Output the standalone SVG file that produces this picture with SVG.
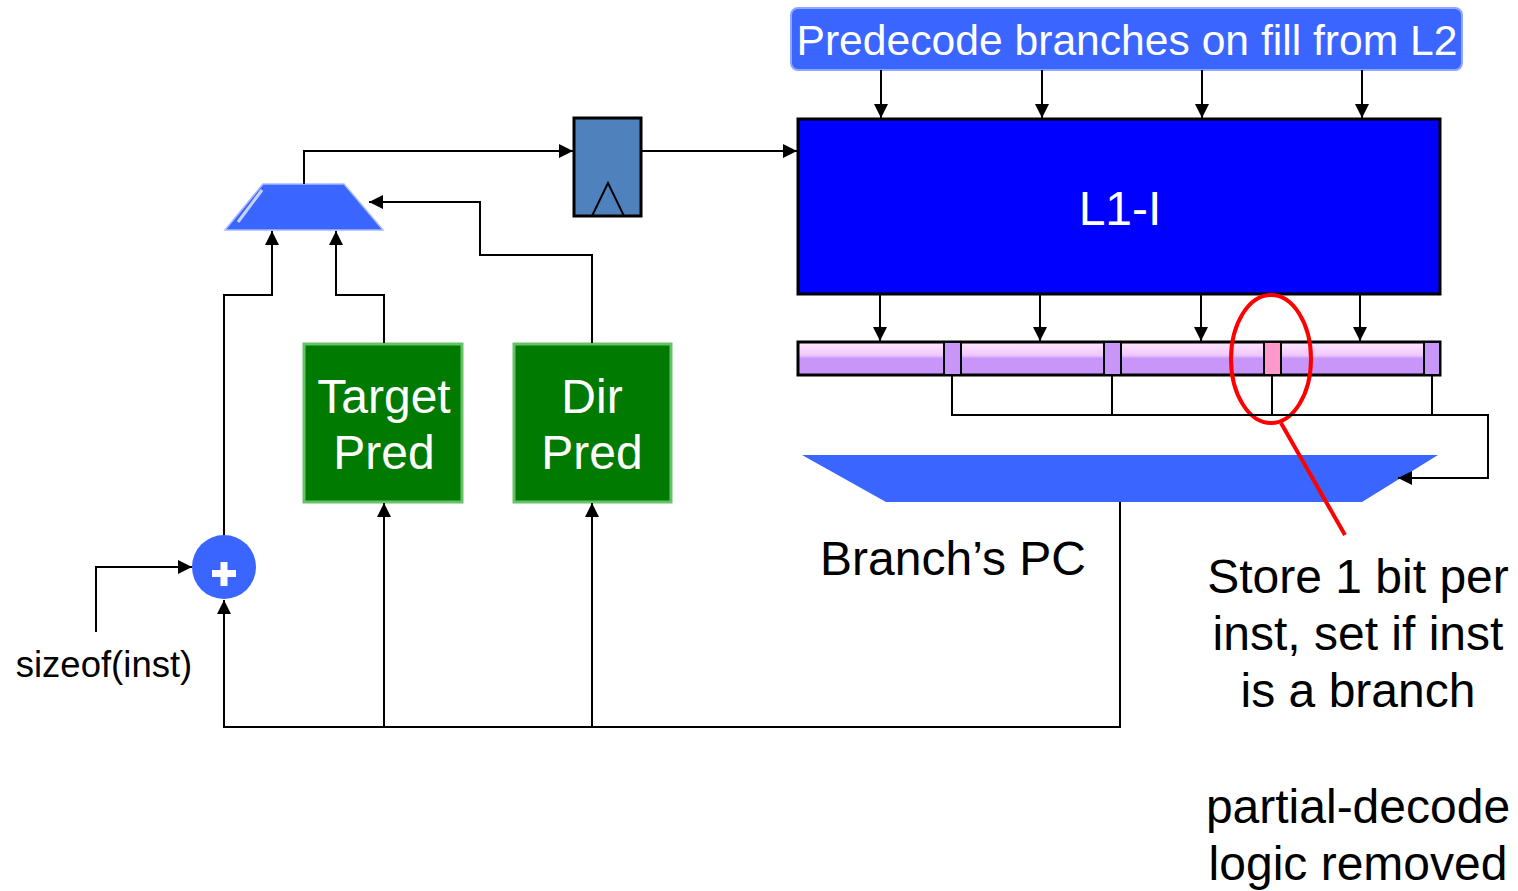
<svg xmlns="http://www.w3.org/2000/svg" width="1518" height="891" viewBox="0 0 1518 891">
<style>
.t{font-family:"Liberation Sans",Arial,sans-serif;font-size:48px;text-anchor:middle}
.w{fill:#fff}
.k{fill:#000}
.c{fill:none;stroke:#000;stroke-width:2}
.blue{fill:#3A66FF}
</style>
<defs>
<marker id="ah" markerUnits="userSpaceOnUse" markerWidth="14" markerHeight="14" viewBox="0 0 14 14" refX="14" refY="7" orient="auto">
<path d="M0,0 L14,7 L0,14 Z" fill="#000"/>
</marker>
<linearGradient id="bar" x1="0" y1="0" x2="0" y2="1">
<stop offset="0" stop-color="#FFE8FF"/>
<stop offset="0.4" stop-color="#F0C8FA"/>
<stop offset="0.5" stop-color="#C896F8"/>
<stop offset="1" stop-color="#C896F8"/>
</linearGradient>
</defs>

<g id="predecode">
<rect x="791" y="8" width="671" height="62" rx="7" fill="#3A66FF" stroke="#8FA8FF" stroke-width="2"/>
<text class="t w" x="1127" y="55" style="font-size:42px" textLength="661" lengthAdjust="spacingAndGlyphs">Predecode branches on fill from L2</text>
</g>

<g id="l1i">
<rect x="798" y="119" width="642" height="175" fill="#0000FF" stroke="#000" stroke-width="3"/>
<text class="t w" x="1120" y="225">L1-I</text>
</g>

<g id="bitbar">
<rect x="798" y="342" width="642" height="33" fill="url(#bar)" stroke="#000" stroke-width="3"/>
<rect x="944" y="342" width="17" height="33" fill="#C896F8" stroke="#000" stroke-width="2"/>
<rect x="1104" y="342" width="17" height="33" fill="#C896F8" stroke="#000" stroke-width="2"/>
<rect x="1264" y="342" width="17" height="33" fill="#FF99CC" stroke="#000" stroke-width="2"/>
<rect x="1424" y="342" width="16" height="33" fill="#C896F8" stroke="#000" stroke-width="2"/>
</g>

<g id="pcmux">
<polygon class="blue" points="802,455 1438,455 1362,502 886,502"/>
<text class="t k" x="953" y="575">Branch’s PC</text>
</g>

<g id="mux">
<polygon class="blue" points="263,184 344,184 383,230 225,230" stroke="#A8B8FF" stroke-width="1.5"/>
<line x1="262" y1="190" x2="238" y2="222" stroke="#C8D4FF" stroke-width="3"/>
</g>

<g id="register">
<rect x="574" y="118" width="67" height="98" fill="#4F81BD" stroke="#000" stroke-width="3"/>
<polyline points="592,216 608,183 624,216" fill="none" stroke="#000" stroke-width="2"/>
</g>

<g id="targetpred">
<rect x="304" y="344" width="158" height="158" fill="#007A00" stroke="#66C266" stroke-width="3"/>
<text class="t w" x="384" y="413">Target</text>
<text class="t w" x="384" y="469">Pred</text>
</g>

<g id="dirpred">
<rect x="514" y="344" width="157" height="158" fill="#007A00" stroke="#66C266" stroke-width="3"/>
<text class="t w" x="592" y="413">Dir</text>
<text class="t w" x="592" y="469">Pred</text>
</g>

<g id="adder">
<circle cx="224" cy="567" r="32" fill="#3A66FF"/>
<rect x="212" y="570" width="24" height="7" fill="#fff"/>
<rect x="220.5" y="562" width="7" height="24" fill="#fff"/>
</g>

<g id="labels">
<text class="t k" x="104" y="677" style="font-size:36.5px">sizeof(inst)</text>
<text class="t k" x="1358" y="593">Store 1 bit per</text>
<text class="t k" x="1358" y="650">inst, set if inst</text>
<text class="t k" x="1358" y="707">is a branch</text>
<text class="t k" x="1358" y="823">partial-decode</text>
<text class="t k" x="1358" y="880">logic removed</text>
</g>

<g id="callout">
<ellipse cx="1271" cy="359" rx="40" ry="64" fill="none" stroke="#FF0000" stroke-width="4"/>
<line x1="1281" y1="423" x2="1345" y2="535" stroke="#FF0000" stroke-width="4"/>
</g>

<g id="connectors" class="c">
<line class="c" x1="881" y1="70" x2="881" y2="118" marker-end="url(#ah)"/>
<line class="c" x1="1042" y1="70" x2="1042" y2="118" marker-end="url(#ah)"/>
<line class="c" x1="1202" y1="70" x2="1202" y2="118" marker-end="url(#ah)"/>
<line class="c" x1="1362" y1="70" x2="1362" y2="118" marker-end="url(#ah)"/>
<line class="c" x1="880" y1="295" x2="880" y2="341" marker-end="url(#ah)"/>
<line class="c" x1="1040" y1="295" x2="1040" y2="341" marker-end="url(#ah)"/>
<line class="c" x1="1201" y1="295" x2="1201" y2="341" marker-end="url(#ah)"/>
<line class="c" x1="1360" y1="295" x2="1360" y2="341" marker-end="url(#ah)"/>
<polyline class="c" points="952,376 952,415 1488,415 1488,478 1398,478" marker-end="url(#ah)"/>
<line class="c" x1="1112" y1="376" x2="1112" y2="415"/>
<line class="c" x1="1272" y1="376" x2="1272" y2="415"/>
<line class="c" x1="1432" y1="376" x2="1432" y2="415"/>
<polyline class="c" points="1120,502 1120,727 224,727 224,600" marker-end="url(#ah)"/>
<line class="c" x1="384" y1="727" x2="384" y2="503" marker-end="url(#ah)"/>
<line class="c" x1="592" y1="727" x2="592" y2="503" marker-end="url(#ah)"/>
<polyline class="c" points="96,632 96,567 192,567" marker-end="url(#ah)"/>
<polyline class="c" points="224,535 224,295 272,295 272,231" marker-end="url(#ah)"/>
<polyline class="c" points="384,343 384,295 336,295 336,231" marker-end="url(#ah)"/>
<polyline class="c" points="592,343 592,255 480,255 480,202 369,202" marker-end="url(#ah)"/>
<polyline class="c" points="304,184 304,151 573,151" marker-end="url(#ah)"/>
<line class="c" x1="641" y1="151" x2="797" y2="151" marker-end="url(#ah)"/>
</g>
</svg>
